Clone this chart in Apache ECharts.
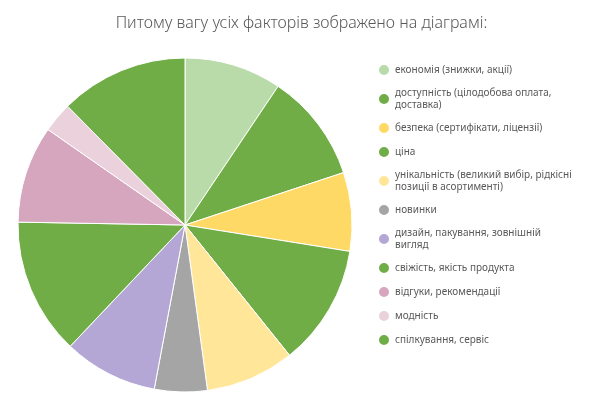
<!DOCTYPE html>
<html><head><meta charset="utf-8">
<script src="https://cdn.jsdelivr.net/npm/echarts@6/dist/echarts.min.js"></script>
<style>html,body{margin:0;padding:0;background:#fff}#c{width:603px;height:413px}</style>
</head><body><div id="c"></div>
<script>
const categories = ['економія (знижки, акції)','доступність (цілодобова оплата,\nдоставка)','безпека (сертифікати, ліцензії)','ціна','унікальність (великий вибір, рідкісні\nпозиції в асортименті)','новинки','дизайн, пакування, зовнішній\nвигляд','свіжість, якість продукта','відгуки, рекомендації','модність','спілкування, сервіс'];
const values = [9.4,10.5,7.6,11.7,8.6,5.1,9.1,13.2,9.4,2.9,12.4];
const colors = ['#b9dba9','#70ad47','#ffd966','#70ad47','#ffe699','#a5a5a5','#b4a7d6','#70ad47','#d5a6bd','#ead1dc','#70ad47'];
const chart = echarts.init(document.getElementById('c'));
chart.setOption({
  title:{text:'Питому вагу усіх факторів зображено на діаграмі:',left:'center',top:10,textStyle:{fontFamily:'Noto Sans',fontWeight:300,fontSize:16,color:'#595959'}},
  legend:{orient:'vertical',left:372,top:58,itemGap:10,itemWidth:12,itemHeight:12,icon:'circle',
    textStyle:{fontFamily:'Noto Sans',fontSize:10,color:'#595959',lineHeight:12},data:categories},
  series:[{type:'pie',center:[185,225],radius:[0,167],startAngle:90,clockwise:true,label:{show:false},labelLine:{show:false},
    itemStyle:{borderColor:'#fff',borderWidth:1},
    data:categories.map((n,i)=>({name:n,value:values[i],itemStyle:{color:colors[i]}}))}]
});
</script></body></html>
